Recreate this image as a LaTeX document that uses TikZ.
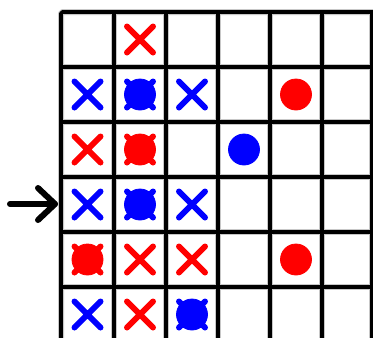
\documentclass[tikz,border=0pt]{standalone}
\usetikzlibrary{calc}
\begin{document}
\begin{tikzpicture}[x=1pt,y=-1pt,
  gridline/.style={line width=3.8pt,black,line join=round},
  gridhalo/.style={line width=6pt,black!22,line join=round},
  xline/.style={line width=6pt,line cap=round},
  disc/.style={draw=black!75,line width=0.8pt},
  arrowline/.style={line width=6pt,black,line cap=round,line join=round}]
\useasboundingbox (0,0) rectangle (373,338);
\clip (0,0) rectangle (373,338);
\fill[white] (0,0) rectangle (373,338);
% cell centres
\foreach \c/\x in {1/87.5,2/140,3/192,4/244,5/296,6/347}{
  \foreach \r/\y in {1/39.5,2/94.5,3/149.5,4/204.5,5/259.5,6/314.5}{
    \coordinate (r\r c\c) at (\x,\y);
  }
}
% grid
\foreach \style in {gridhalo,gridline}{
  \foreach \x in {114,166,218,270,322,372}{
    \draw[\style] (\x,12) -- (\x,345);
  }
  \foreach \y in {67,122,177,232,287}{
    \draw[\style] (61,\y) -- (380,\y);
  }
  \draw[\style,rounded corners=1.5pt] (61,345) -- (61,12) -- (380,12);
}
\newcommand\xmk[2]{\draw[xline,#2] ($(#1)+(-13,-13)$) -- ($(#1)+(13,13)$)
  ($(#1)+(-13,13)$) -- ($(#1)+(13,-13)$);}
\newcommand\dsk[2]{\fill[disc,#2] (#1) circle (15.5);}
% row 1
\xmk{r1c2}{red}
% row 2
\xmk{r2c1}{blue}
\xmk{r2c2}{blue}\dsk{r2c2}{blue}
\xmk{r2c3}{blue}
\dsk{r2c5}{red}
% row 3
\xmk{r3c1}{red}
\xmk{r3c2}{red}\dsk{r3c2}{red}
\dsk{r3c4}{blue}
% row 4
\xmk{r4c1}{blue}
\xmk{r4c2}{blue}\dsk{r4c2}{blue}
\xmk{r4c3}{blue}
% row 5
\xmk{r5c1}{red}\dsk{r5c1}{red}
\xmk{r5c2}{red}
\xmk{r5c3}{red}
\dsk{r5c5}{red}
% row 6
\xmk{r6c1}{blue}
\xmk{r6c2}{red}
\xmk{r6c3}{blue}\dsk{r6c3}{blue}
% arrow
\coordinate (atail) at (10,204);
\coordinate (ahead) at (55,204);
\draw[arrowline] (atail) -- (ahead);
\draw[arrowline] ($(ahead)+(-17,-16)$) -- (ahead) -- ($(ahead)+(-17,16)$);
\end{tikzpicture}
\end{document}
